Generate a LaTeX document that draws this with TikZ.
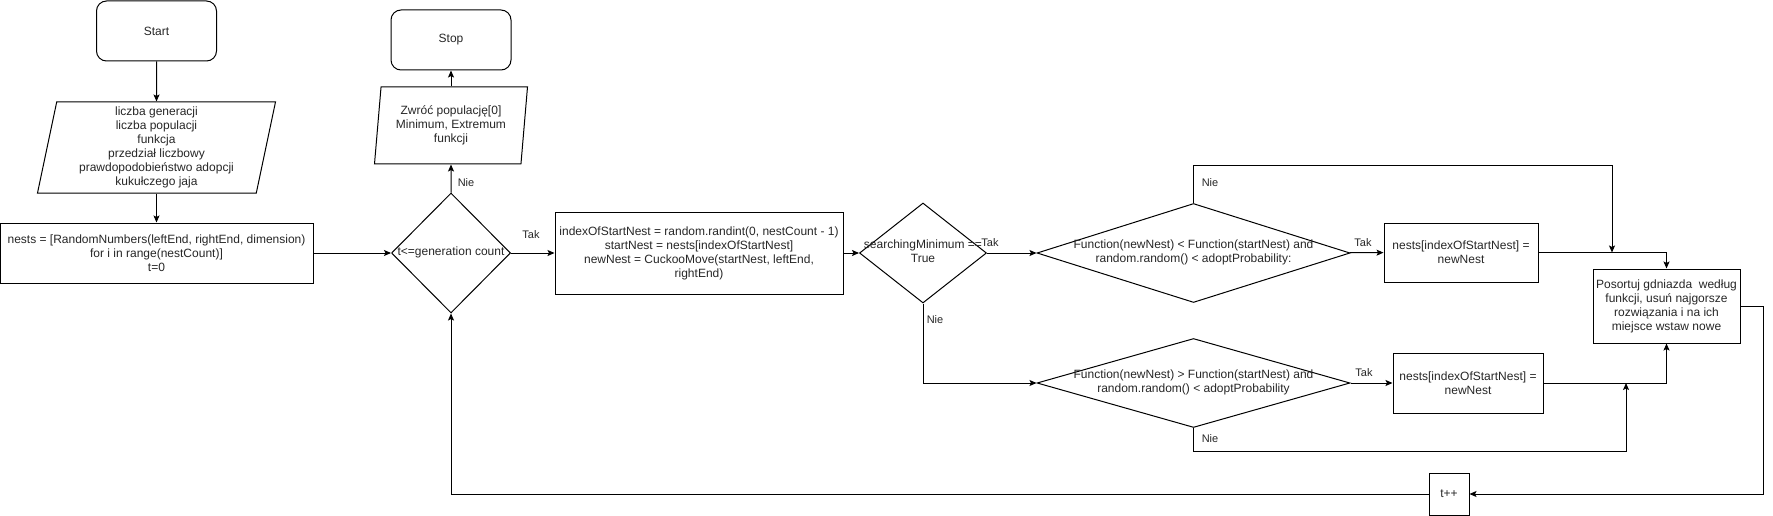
\documentclass[tikz,border=0pt]{standalone}
\usepackage{fontspec}
\setmainfont{Liberation Sans}
\usetikzlibrary{arrows.meta,positioning,shapes.geometric}
\newcommand{\ovr}[1]{\makebox[0pt]{\begin{tabular}{@{}c@{}}#1\end{tabular}}}
\tikzset{
  base/.style={draw=black, line width=1pt, text=black!85, font=\fontsize{12}{14}\selectfont, inner sep=1pt, align=center},
  terminal/.style={base, rectangle, rounded corners=10pt, minimum width=120pt, minimum height=60pt},
  io/.style={base, trapezium, trapezium stretches body},
  process/.style={base, rectangle},
  decision/.style={base, diamond, inner sep=0pt},
  lbl/.style={font=\fontsize{11}{13}\selectfont, text=black!85, inner sep=1pt}
}
\begin{document}
\begin{tikzpicture}[x=1pt, y=-1pt, >={Stealth[length=7pt,width=6pt,inset=1.5pt]}, line width=1pt]
\useasboundingbox (0,0) rectangle (1773,516);
\node[terminal] (start) at (156.5,31) {Start};
\node[io, trapezium left angle=77, trapezium right angle=103, minimum width=238pt, minimum height=91pt] (input) at (156.5,147.5) {liczba generacji\\liczba populacji\\funkcja\\przedział liczbowy\\prawdopodobieństwo adopcji\\kukułczego jaja};
\node[process, minimum width=313pt, minimum height=60pt] (init) at (156.5,253) {nests = [RandomNumbers(leftEnd, rightEnd, dimension)\\for i in range(nestCount)]\\t=0};
\node[decision, minimum width=119pt, minimum height=120pt] (cond) at (451,253) {\ovr{t<=generation count}};
\node[io, trapezium left angle=81, trapezium right angle=99, minimum width=153pt, minimum height=77pt] (output) at (451,125.5) {Zwróć populację[0]\\Minimum, Extremum\\funkcji};
\node[terminal] (stop) at (451,40) {Stop};
\node[process, minimum width=288pt, minimum height=82pt] (proc) at (699,253) {indexOfStartNest = random.randint(0, nestCount - 1)\\startNest = nests[indexOfStartNest]\\newNest = CuckooMove(startNest, leftEnd,\\rightEnd)};
\node[decision, minimum width=127pt, minimum height=100pt] (search) at (923,253) {\ovr{searchingMinimum ==\\True}};
\node[decision, minimum width=313pt, minimum height=99pt] (flt) at (1193.5,253) {\ovr{Function(newNest) < Function(startNest) and\\random.random() < adoptProbability:}};
\node[decision, minimum width=313pt, minimum height=89pt] (fgt) at (1193.5,383) {\ovr{Function(newNest) > Function(startNest) and\\random.random() < adoptProbability}};
\node[process, minimum width=154pt, minimum height=59pt] (nest1) at (1461,252.5) {nests[indexOfStartNest] =\\newNest};
\node[process, minimum width=150pt, minimum height=60pt] (nest2) at (1468,383) {nests[indexOfStartNest] =\\newNest};
\node[process, minimum width=147pt, minimum height=74pt] (sort) at (1666.5,306) {Posortuj gdniazda~ według\\funkcji, usuń najgorsze\\rozwiązania i na ich\\miejsce wstaw nowe};
\node[process, minimum width=40pt, minimum height=42pt] (tpp) at (1449,494) {t++};
\coordinate (j1) at (1612,252.5);
\coordinate (j2) at (1626,383);
\draw[->] (start) -- (input);
\draw[->] (input) -- (init);
\draw[->] (init) -- (cond);
\draw[->] (cond) -- (proc);
\draw[->] (cond) -- (output);
\draw[->] (output) -- (stop);
\draw[->] (proc) -- (search);
\draw[->] (search) -- (flt);
\draw[->] (search) |- (fgt);
\draw[->] (flt) -- (nest1);
\draw[->] (fgt) -- (nest2);
\draw[->] (nest1) -| (sort);
\draw[->] (nest2) -| (sort);
\draw[->] (flt.north) -- ++(0,-37.5) -| (j1);
\draw[->] (fgt.south) -- ++(0,23.5) -| (j2);
\draw[->] (sort.east) -- ++(23,0) |- (tpp);
\draw[->] (tpp) -| (cond);
\node[lbl] (nie1) at (466,183) {Nie};
\node[lbl] (tak1) at (531,235) {Tak};
\node[lbl] (tak2) at (990,243) {Tak};
\node[lbl] (nie2) at (935,320) {Nie};
\node[lbl] (nie3) at (1210,183) {Nie};
\node[lbl] (tak3) at (1363,243) {Tak};
\node[lbl] (tak4) at (1364,373) {Tak};
\node[lbl] (nie4) at (1210,439) {Nie};
\end{tikzpicture}
\end{document}
